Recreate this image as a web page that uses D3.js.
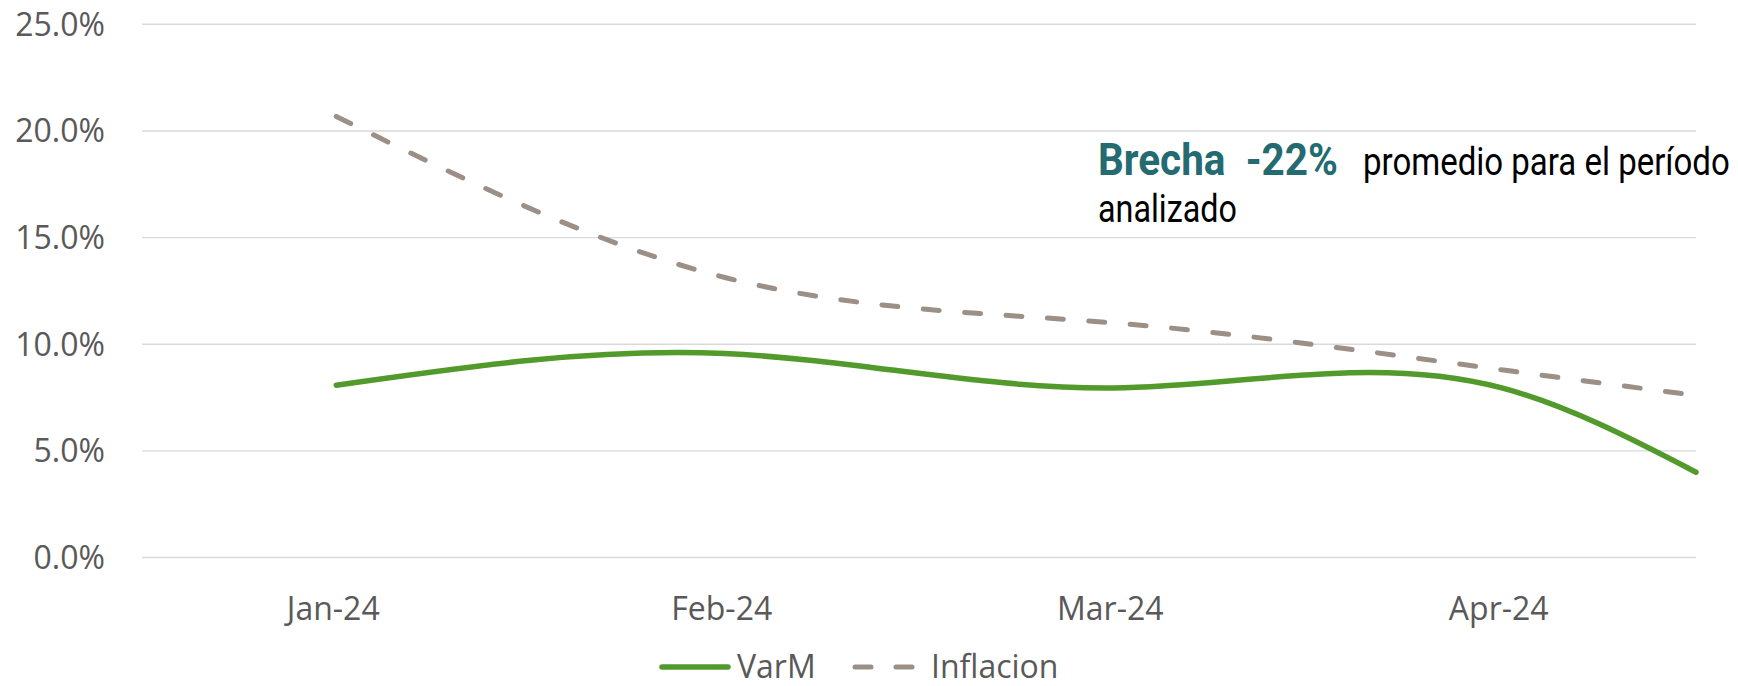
<!DOCTYPE html>
<html>
<head>
<meta charset="utf-8">
<script src="https://cdn.jsdelivr.net/npm/d3@7"></script>
<style>
  body { margin: 0; background: #fff; }
  svg { display: block; }
  .grid line { stroke: #d9d9d9; stroke-width: 1.4; }
  .tick-label { font-family: "Open Sans", sans-serif; font-size: 32px; fill: #595959; }
</style>
</head>
<body>
<script>
// month labels on the category axis
var months = ["Jan-24", "Feb-24", "Mar-24", "Apr-24"];
// position of each reading on the month axis (last reading ends at the plot edge)
var monthIndex = [0, 1, 2, 3, 3.5];
// series, in percent
var varM = [8.08, 9.56, 7.95, 7.95, 4.0];
var inflacion = [20.68, 13.13, 11.0, 8.8, 7.6];
// y axis ticks
var yTicks = [0, 5, 10, 15, 20, 25];

var width = 1738,
    height = 686;

// natural cubic spline of y over x (smooth line like the spreadsheet one)
function NaturalX(context) {
    this._context = context;
}
NaturalX.prototype = {
    areaStart: function() { this._line = 0; },
    areaEnd: function() { this._line = NaN; },
    lineStart: function() { this._x = []; this._y = []; },
    point: function(x, y) { this._x.push(+x); this._y.push(+y); },
    lineEnd: function() {
        var xs = this._x, ys = this._y, n = xs.length, c = this._context;
        if (!n) return;
        c.moveTo(xs[0], ys[0]);
        if (n < 3) {
            if (n == 2) c.lineTo(xs[1], ys[1]);
            return;
        }
        var h = [], i;
        for (i = 0; i < n - 1; i++) h.push(xs[i + 1] - xs[i]);
        // tridiagonal system for inner second derivatives
        var m = n - 2, a = [], b = [], cc = [], r = [];
        for (i = 1; i < n - 1; i++) {
            a.push(h[i - 1]);
            b.push(2 * (h[i - 1] + h[i]));
            cc.push(h[i]);
            r.push(6 * ((ys[i + 1] - ys[i]) / h[i] - (ys[i] - ys[i - 1]) / h[i - 1]));
        }
        for (i = 1; i < m; i++) {
            var w = a[i] / b[i - 1];
            b[i] -= w * cc[i - 1];
            r[i] -= w * r[i - 1];
        }
        var M = new Array(n).fill(0);
        M[m] = r[m - 1] / b[m - 1];
        for (i = m - 2; i >= 0; i--) M[i + 1] = (r[i] - cc[i] * M[i + 2]) / b[i];
        var s = [];
        for (i = 0; i < n - 1; i++) s.push((ys[i + 1] - ys[i]) / h[i] - h[i] * (2 * M[i] + M[i + 1]) / 6);
        s.push((ys[n - 1] - ys[n - 2]) / h[n - 2] + h[n - 2] * (M[n - 2] + 2 * M[n - 1]) / 6);
        for (i = 0; i < n - 1; i++) {
            var d = h[i] / 3;
            c.bezierCurveTo(xs[i] + d, ys[i] + d * s[i],
                            xs[i + 1] - d, ys[i + 1] - d * s[i + 1],
                            xs[i + 1], ys[i + 1]);
        }
    }
};
function curveNaturalX(context) { return new NaturalX(context); }

var svg = d3.select("body").append("svg")
    .attr("width", width)
    .attr("height", height);

var x = d3.scaleLinear()
    .domain([-0.5, 3.5])
    .range([142, 1696]);

var y = d3.scaleLinear()
    .domain([0, 25])
    .range([557.5, 24.3]);

// gridlines
var grid = svg.append("g").attr("class", "grid");
grid.selectAll("line").data(yTicks)
    .enter().append("line")
    .attr("x1", x.range()[0])
    .attr("x2", x.range()[1])
    .attr("y1", function(d) { return y(d); })
    .attr("y2", function(d) { return y(d); });

// y labels
svg.selectAll(".ylab").data(yTicks)
    .enter().append("text")
    .attr("class", "tick-label ylab")
    .attr("x", 105)
    .attr("y", function(d) { return y(d); })
    .attr("dy", "0.36em")
    .attr("text-anchor", "end")
    .text(function(d) { return d3.format(".1f")(d) + "%"; });

// x labels
svg.selectAll(".xlab").data(months)
    .enter().append("text")
    .attr("class", "tick-label xlab")
    .attr("x", function(d, i) { return x(i) - 3; })
    .attr("y", 620)
    .attr("text-anchor", "middle")
    .text(function(d) { return d; });

var line = d3.line()
    .x(function(d) { return x(d[0]); })
    .y(function(d) { return y(d[1]); })
    .curve(curveNaturalX);

svg.append("path")
    .datum(d3.zip(monthIndex, inflacion))
    .attr("fill", "none")
    .attr("stroke", "#9b8f86")
    .attr("stroke-width", 5)
    .attr("stroke-linecap", "round")
    .attr("stroke-dasharray", "16 25.5")
    .attr("d", line);

svg.append("path")
    .datum(d3.zip(monthIndex, varM))
    .attr("fill", "none")
    .attr("stroke", "#519a2b")
    .attr("stroke-width", 5.5)
    .attr("stroke-linecap", "round")
    .attr("d", line);

// legend
var legend = svg.append("g");
legend.append("line")
    .attr("x1", 662).attr("x2", 728)
    .attr("y1", 667).attr("y2", 667)
    .attr("stroke", "#519a2b")
    .attr("stroke-width", 5.5)
    .attr("stroke-linecap", "round");
legend.append("text")
    .attr("class", "tick-label")
    .attr("x", 737).attr("y", 678)
    .text("VarM");
legend.append("line")
    .attr("x1", 855).attr("x2", 914)
    .attr("y1", 667).attr("y2", 667)
    .attr("stroke", "#9b8f86")
    .attr("stroke-width", 5)
    .attr("stroke-linecap", "round")
    .attr("stroke-dasharray", "16 25");
legend.append("text")
    .attr("class", "tick-label")
    .attr("x", 931).attr("y", 678)
    .text("Inflacion");

// annotation, squeezed horizontally to look condensed
function squeeze(sel, w) {
    var tw = sel.node().getComputedTextLength();
    var x0 = +sel.attr("x");
    sel.attr("transform", "translate(" + x0 + ",0) scale(" + (w / tw) + ",1) translate(" + (-x0) + ",0)");
}

var t1 = svg.append("text")
    .attr("x", 1098).attr("y", 175)
    .style("font-family", "Roboto, sans-serif")
    .style("font-weight", "bold")
    .style("font-size", "44px")
    .style("fill", "#236b70")
    .attr("xml:space", "preserve")
    .text("Brecha  -22%");
squeeze(t1, 240);

var t2 = svg.append("text")
    .attr("x", 1363).attr("y", 175)
    .style("font-family", "Roboto, sans-serif")
    .style("font-size", "38px")
    .style("fill", "#000")
    .text("promedio para el período");
squeeze(t2, 367);

var t3 = svg.append("text")
    .attr("x", 1098).attr("y", 222)
    .style("font-family", "Roboto, sans-serif")
    .style("font-size", "38px")
    .style("fill", "#000")
    .text("analizado");
squeeze(t3, 139);
</script>
</body>
</html>
